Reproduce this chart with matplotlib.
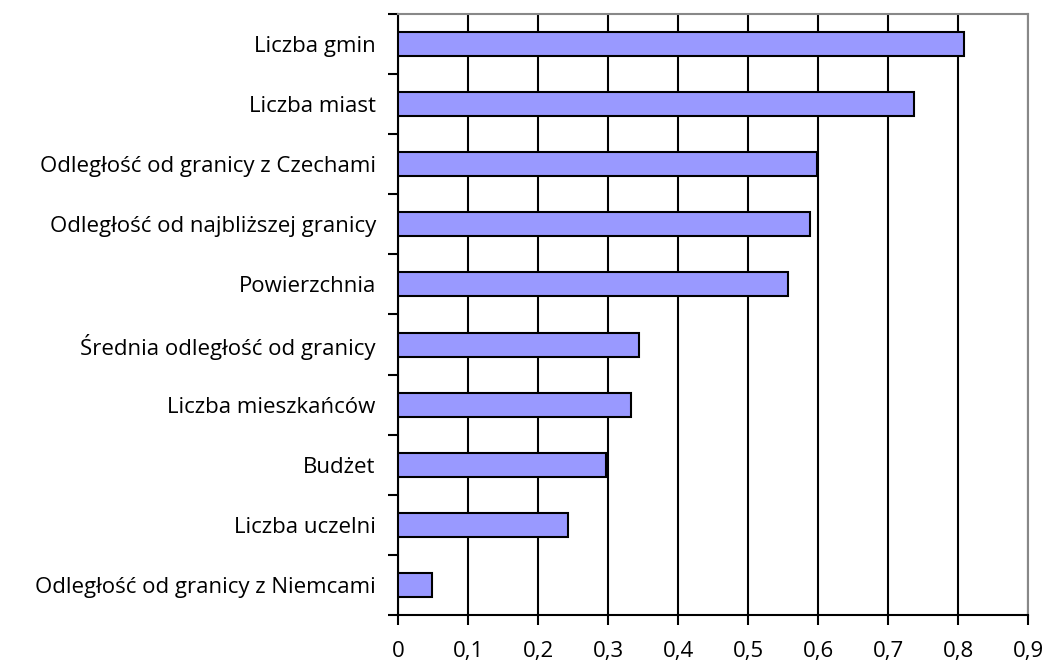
import matplotlib.pyplot as plt
import numpy as np

# factors, bottom to top as drawn
labels = ["Odległość od granicy z Niemcami", "Liczba uczelni", "Budżet",
          "Liczba mieszkańców", "Średnia odległość od granicy", "Powierzchnia",
          "Odległość od najbliższej granicy", "Odległość od granicy z Czechami",
          "Liczba miast", "Liczba gmin"]
values = [0.049, 0.243, 0.297, 0.333, 0.344, 0.557, 0.588, 0.598, 0.737, 0.809]
xticks = [0, 0.1, 0.2, 0.3, 0.4, 0.5, 0.6, 0.7, 0.8, 0.9]
xticklabels = ["0", "0,1", "0,2", "0,3", "0,4", "0,5", "0,6", "0,7", "0,8", "0,9"]

plt.rcParams['font.family'] = ['Open Sans', 'DejaVu Sans']

fig = plt.figure(figsize=(10.46, 6.66), dpi=100)
ax = fig.add_axes([0.3805, 0.0766, 0.6023, 0.9024])

y = np.arange(len(labels))
ax.barh(y, values, height=0.4, color="#9999ff", edgecolor="black", linewidth=1.5, zorder=3)

ax.set_xlim(0, 0.9)
ax.set_ylim(-0.5, len(labels) - 0.5)
ax.set_xticks(xticks)
ax.set_xticklabels(xticklabels, fontsize=16)
ax.set_yticks(y)
ax.set_yticklabels(labels, fontsize=16)
ax.tick_params(axis="y", length=0, pad=16)
ax.set_yticks(np.arange(-0.5, len(labels), 1), minor=True)
ax.tick_params(axis="y", which="minor", length=7, width=1.5, direction="out")
ax.tick_params(axis="x", length=7, width=1.5, direction="out", pad=12)

ax.grid(axis="x", color="black", linewidth=1.5, zorder=1)
for s in ["top", "right"]:
    ax.spines[s].set_color("#888888")
    ax.spines[s].set_linewidth(1.5)
for s in ["left", "bottom"]:
    ax.spines[s].set_linewidth(1.5)

plt.savefig("out.png", dpi=100)
